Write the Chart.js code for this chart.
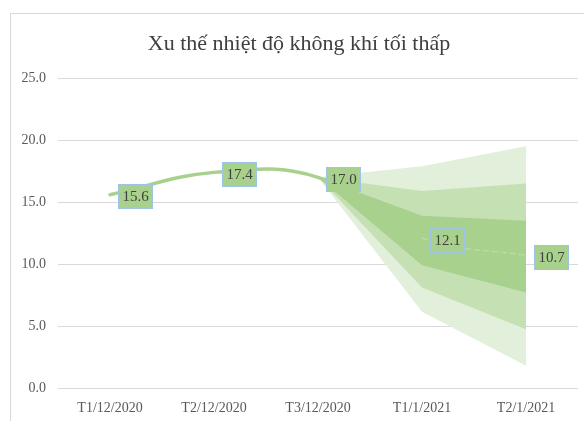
<!DOCTYPE html>
<html>
<head>
<meta charset="utf-8">
<script src="https://cdn.jsdelivr.net/npm/chart.js@4/dist/chart.umd.min.js"></script>
<style>
  html, body { margin: 0; padding: 0; background: #fff; overflow: hidden; }
  #frame { position: absolute; left: 10px; top: 13px; width: 700px; height: 500px; border: 1px solid #d9d9d9; box-sizing: border-box; }
  #wrap { position: absolute; left: 0; top: 0; width: 584px; height: 421px; }
</style>
</head>
<body>
<div id="frame"></div>
<div id="wrap"><canvas id="c" width="584" height="421"></canvas></div>
<script>
const categories = ['T1/12/2020', 'T2/12/2020', 'T3/12/2020', 'T1/1/2021', 'T2/1/2021'];
const observed = [15.6, 17.4, 17.0, 12.1, 10.7];
const innerUpper = [null, null, 17.0, 13.9, 13.5];
const innerLower = [null, null, 17.0, 9.9, 7.7];
const midUpper = [null, null, 17.0, 15.9, 16.5];
const midLower = [null, null, 17.0, 8.1, 4.75];
const outerUpper = [null, null, 17.0, 17.9, 19.5];
const outerLower = [null, null, 17.0, 6.15, 1.8];
const yTicks = [0, 5, 10, 15, 20, 25];

const cInner = '#a9d18e', cMid = '#c5e0b3', cOuter = '#e2efda';
const serif = "'Liberation Serif', 'DejaVu Serif', serif";

function band(data, fill, color, order) {
  return { data, fill, backgroundColor: color, borderWidth: 0, pointRadius: 0, tension: 0, order, spanGaps: false };
}

const labelPlugin = {
  id: 'boxLabels',
  afterDatasetsDraw(chart) {
    const ctx = chart.ctx;
    const meta = chart.getDatasetMeta(0);
    ctx.save();
    meta.data.forEach((pt, i) => {
      const w = 35, h = 25;
      const left = Math.round(pt.x + 25 - w / 2), top = Math.round(pt.y + 2 - h / 2);
      ctx.fillStyle = '#a9d18e';
      ctx.fillRect(left, top, w, h);
      ctx.strokeStyle = '#9dc3e6';
      ctx.lineWidth = 1;
      ctx.strokeRect(left + 0.5, top + 0.5, w - 1, h - 1);
      ctx.fillStyle = '#404040';
      ctx.font = '15px ' + serif;
      ctx.textAlign = 'center';
      ctx.textBaseline = 'middle';
      ctx.fillText(observed[i].toFixed(1), left + w / 2, top + h / 2 + 1);
    });
    ctx.restore();
  }
};

new Chart(document.getElementById('c'), {
  type: 'line',
  data: {
    labels: categories,
    datasets: [
      {
        data: observed, borderColor: '#a9d18e', borderWidth: 3.5, pointRadius: 0,
        tension: 0.4, fill: false, order: 0, borderCapStyle: 'round',
        segment: {
          borderColor: c => c.p0DataIndex >= 3 ? '#b9dba2' : '#a9d18e',
          borderDash: c => c.p0DataIndex >= 3 ? [5, 4] : undefined,
          borderWidth: c => c.p0DataIndex >= 3 ? 1.5 : 3.5
        }
      },
      band(innerUpper, '+1', cInner, 1),
      band(innerLower, false, cInner, 1),
      band(midUpper, '+1', cMid, 2),
      band(midLower, false, cMid, 2),
      band(outerUpper, '+1', cOuter, 3),
      band(outerLower, false, cOuter, 3)
    ]
  },
  options: {
    responsive: false,
    animation: false,
    events: [],
    layout: { padding: { left: 20, right: 6, top: 0, bottom: 0 } },
    plugins: {
      legend: { display: false },
      tooltip: { enabled: false },
      title: {
        display: true,
        text: 'Xu thế nhiệt độ không khí tối thấp',
        color: '#404040',
        font: { family: serif, size: 22, weight: 'normal', lineHeight: 1.1 },
        padding: { top: 32, bottom: 22 }
      }
    },
    scales: {
      x: {
        offset: true,
        grid: { display: false, drawTicks: false, offset: true },
        border: { display: false },
        ticks: { color: '#595959', font: { family: serif, size: 14 }, padding: 12, maxRotation: 0, autoSkip: false },
        afterFit: s => { s.height = 33; }
      },
      y: {
        min: 0, max: 25,
        afterBuildTicks: s => { s.ticks = yTicks.map(v => ({ value: v })); },
        grid: { color: '#d9d9d9', lineWidth: 1, drawTicks: false },
        border: { display: false },
        ticks: { color: '#595959', font: { family: serif, size: 14 }, padding: 12, callback: v => Number(v).toFixed(1) },
        afterFit: s => { s.width = 38; }
      }
    }
  },
  plugins: [labelPlugin]
});
</script>
</body>
</html>
